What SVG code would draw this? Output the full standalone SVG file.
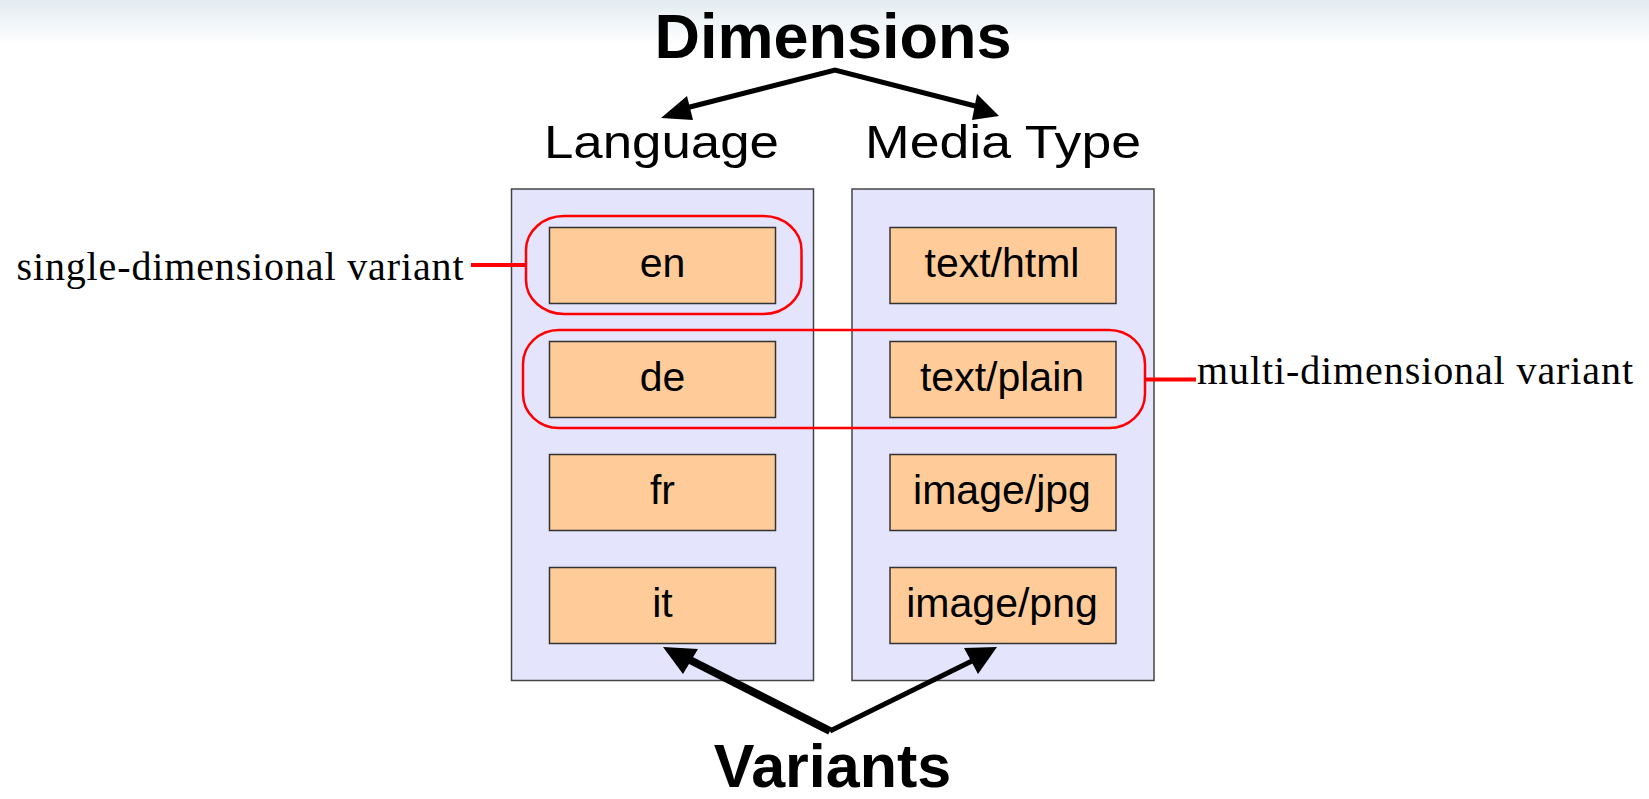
<svg xmlns="http://www.w3.org/2000/svg" width="1649" height="799" viewBox="0 0 1649 799">
  <defs>
    <linearGradient id="sky" x1="0" y1="0" x2="0" y2="1">
      <stop offset="0" stop-color="#E3ECF1"/>
      <stop offset="0.6" stop-color="#F3F7F9"/>
      <stop offset="1" stop-color="#FFFFFF"/>
    </linearGradient>
    <style>
      .panel { fill: #E4E4FC; stroke: #444444; stroke-width: 1.5; }
      .box { fill: #FFCC99; stroke: #333333; stroke-width: 1.5; }
      .boxtxt { font-family: "Liberation Sans", Arial, sans-serif; font-size: 41px; fill: #000; text-anchor: middle; }
      .head { font-family: "Liberation Sans", Arial, sans-serif; font-size: 46px; fill: #000; text-anchor: middle; }
      .big { font-family: "Liberation Sans", Arial, sans-serif; font-weight: bold; fill: #000; text-anchor: middle; }
      .note { font-family: "Liberation Serif", "Times New Roman", serif; font-size: 40px; fill: #000; }
      .ring { fill: none; stroke: #FF0000; stroke-width: 2.5; }
      .lead { stroke: #FF0000; stroke-width: 4; fill: none; }
      .arrow { stroke: #000; fill: none; stroke-linejoin: miter; }
      .head-tri { fill: #000; }
    </style>
  </defs>

  <rect x="0" y="0" width="1649" height="799" fill="#FFFFFF"/>
  <rect x="0" y="0" width="1649" height="45" fill="url(#sky)"/>

  <g id="title-dimensions">
    <text class="big" x="833" y="58" font-size="63">Dimensions</text>
  </g>

  <g id="label-language">
    <text class="head" x="661.5" y="158" textLength="235" lengthAdjust="spacingAndGlyphs">Language</text>
  </g>
  <g id="label-mediatype">
    <text class="head" x="1003" y="158" textLength="276" lengthAdjust="spacingAndGlyphs">Media Type</text>
  </g>

  <g id="panel-language">
    <rect class="panel" x="511.5" y="189" width="302" height="491.5"/>
  </g>
  <g id="panel-mediatype">
    <rect class="panel" x="852" y="189" width="302" height="491.5"/>
  </g>

  <g id="node-en">
    <rect class="box" x="549.5" y="227.5" width="226" height="76"/>
    <text class="boxtxt" x="662.5" y="277">en</text>
  </g>
  <g id="node-de">
    <rect class="box" x="549.5" y="341.5" width="226" height="76"/>
    <text class="boxtxt" x="662.5" y="391">de</text>
  </g>
  <g id="node-fr">
    <rect class="box" x="549.5" y="454.5" width="226" height="76"/>
    <text class="boxtxt" x="662.5" y="504">fr</text>
  </g>
  <g id="node-it">
    <rect class="box" x="549.5" y="567.5" width="226" height="76"/>
    <text class="boxtxt" x="662.5" y="617">it</text>
  </g>

  <g id="node-text-html">
    <rect class="box" x="890" y="227.5" width="226" height="76"/>
    <text class="boxtxt" x="1002" y="277">text/html</text>
  </g>
  <g id="node-text-plain">
    <rect class="box" x="890" y="341.5" width="226" height="76"/>
    <text class="boxtxt" x="1002" y="391">text/plain</text>
  </g>
  <g id="node-image-jpg">
    <rect class="box" x="890" y="454.5" width="226" height="76"/>
    <text class="boxtxt" x="1002" y="504">image/jpg</text>
  </g>
  <g id="node-image-png">
    <rect class="box" x="890" y="567.5" width="226" height="76"/>
    <text class="boxtxt" x="1002" y="617">image/png</text>
  </g>

  <g id="group-single">
    <rect class="ring" x="526" y="216" width="275.5" height="98" rx="38" ry="34"/>
  </g>
  <g id="group-multi">
    <rect class="ring" x="523" y="330" width="622" height="98" rx="36" ry="34"/>
  </g>

  <g id="note-single">
    <text class="note" x="16.5" y="279.5" textLength="447" lengthAdjust="spacing">single-dimensional variant</text>
  </g>
  <g id="note-multi">
    <text class="note" x="1197" y="383.5" textLength="436" lengthAdjust="spacing">multi-dimensional variant</text>
  </g>

  <g id="title-variants">
    <text class="big" x="832.5" y="787" font-size="61">Variants</text>
  </g>

  <g id="connectors">
    <line class="lead" x1="471" y1="265" x2="526" y2="265"/>
    <line class="lead" x1="1145" y1="379.5" x2="1196" y2="379.5"/>

    <polyline class="arrow" stroke-width="5" points="682,109 835,70 983,108"/>
    <polygon class="head-tri" points="661,118 687,96 693,120"/>
    <polygon class="head-tri" points="999,116 977,94 972,120"/>

    <line class="arrow" stroke-width="8" x1="830" y1="731" x2="688" y2="659"/>
    <line class="arrow" stroke-width="5" x1="830" y1="731" x2="978" y2="658"/>
    <polygon class="head-tri" points="663,647 698,649 683,674"/>
    <polygon class="head-tri" points="997,647 964,648 978,674"/>
  </g>
</svg>
